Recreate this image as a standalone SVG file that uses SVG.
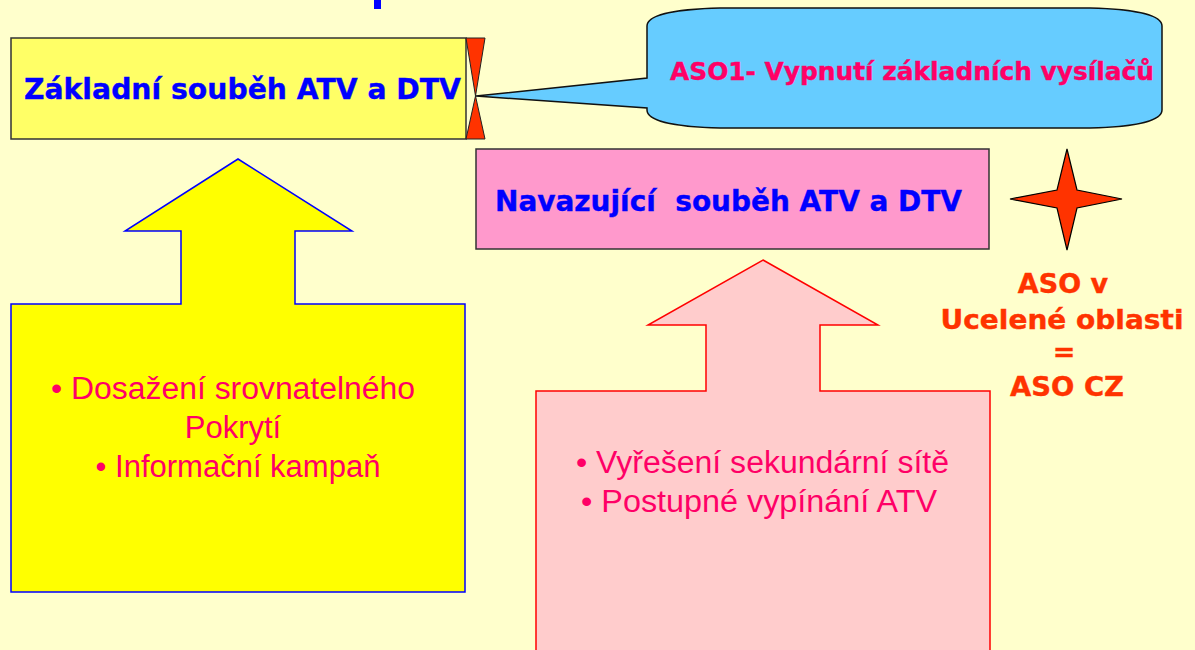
<svg xmlns="http://www.w3.org/2000/svg" width="1195" height="650" viewBox="0 0 1195 650">
<defs>
<style>
.bold{font-family:"DejaVu Sans","Liberation Sans",sans-serif;font-weight:bold}
.reg{font-family:"Liberation Sans",Arial,sans-serif;font-size:31px;fill:#FF0066}
.blue{fill:#0000FF;stroke:#0000FF;stroke-width:0.4;font-size:29px}
.aso{fill:#FF3300;stroke:#FF3300;stroke-width:0.4;font-size:27px}
.box{stroke:#333333;stroke-width:1.5}
</style>
</defs>
<rect x="0" y="0" width="1195" height="650" fill="#FFFFCC"/>
<rect x="374" y="0" width="7" height="9" fill="#0000FF"/>

<g id="connectors">
</g>

<g id="node-zakladni">
<rect class="box" x="11" y="38" width="455" height="101" fill="#FFFF66"/>
<text class="bold blue" x="24" y="99" textLength="437" lengthAdjust="spacingAndGlyphs">Základní souběh ATV a DTV</text>
</g>

<g id="node-callout">
<path d="M647,26 C647,14 680,9 720,8 L1090,8 C1130,9 1162,14 1162,26 L1162,110 C1162,122 1130,127 1090,128 L720,128 C680,127 647,122 647,110 L647,108 L476,96 L647,78 Z" fill="#66CCFF" stroke="#111111" stroke-width="1.5"/>
<text class="bold" x="670" y="80" font-size="24" fill="#FF0066" stroke="#FF0066" stroke-width="0.4" textLength="484" lengthAdjust="spacingAndGlyphs">ASO1- Vypnutí základních vysílačů</text>
</g>

<g id="node-bowtie">
<polygon points="466,38 485,38 475.5,96" fill="#FF3300" stroke="#222" stroke-width="1"/>
<polygon points="466,139 485,139 475.5,96" fill="#FF3300" stroke="#222" stroke-width="1"/>
</g>

<g id="node-navazujici">
<rect class="box" x="476" y="149" width="513" height="100" fill="#FF99CC"/>
<text class="bold blue" x="495" y="211" textLength="467" lengthAdjust="spacingAndGlyphs" style="white-space:pre">Navazující  souběh ATV a DTV</text>
</g>

<g id="node-star">
<polygon points="1067,149 1077,190 1122,199 1077,208 1067,250 1057,208 1010,199 1057,190" fill="#FF3300" stroke="#000" stroke-width="1.2"/>
</g>

<g id="node-aso">
<text class="bold aso" text-anchor="middle" x="1063" y="293">ASO v</text>
<text class="bold aso" text-anchor="middle" x="1062" y="329" textLength="243" lengthAdjust="spacingAndGlyphs">Ucelené oblasti</text>
<text class="bold aso" text-anchor="middle" x="1064" y="361">=</text>
<text class="bold aso" text-anchor="middle" x="1067" y="396" textLength="114" lengthAdjust="spacingAndGlyphs">ASO CZ</text>
</g>

<g id="node-yellow-arrow">
<polygon points="238,159 352,231 295,231 295,304 465,304 465,592 11,592 11,304 181,304 181,231 125,231" fill="#FFFF00" stroke="#0000FF" stroke-width="1.5"/>
<text class="reg" text-anchor="middle" x="233" y="399" textLength="364" lengthAdjust="spacingAndGlyphs">• Dosažení srovnatelného</text>
<text class="reg" text-anchor="middle" x="233" y="438">Pokrytí</text>
<text class="reg" text-anchor="middle" x="238" y="477">• Informační kampaň</text>
</g>

<g id="node-pink-arrow">
<polygon points="763,260 878,325 820,325 820,391 990,391 990,660 536,660 536,391 706,391 706,325 648,325" fill="#FFCCCC" stroke="#FF0000" stroke-width="1.5"/>
<text class="reg" x="576" y="473" textLength="373" lengthAdjust="spacingAndGlyphs">• Vyřešení sekundární sítě</text>
<text class="reg" x="581" y="512" textLength="356" lengthAdjust="spacingAndGlyphs">• Postupné vypínání ATV</text>
</g>
</svg>
